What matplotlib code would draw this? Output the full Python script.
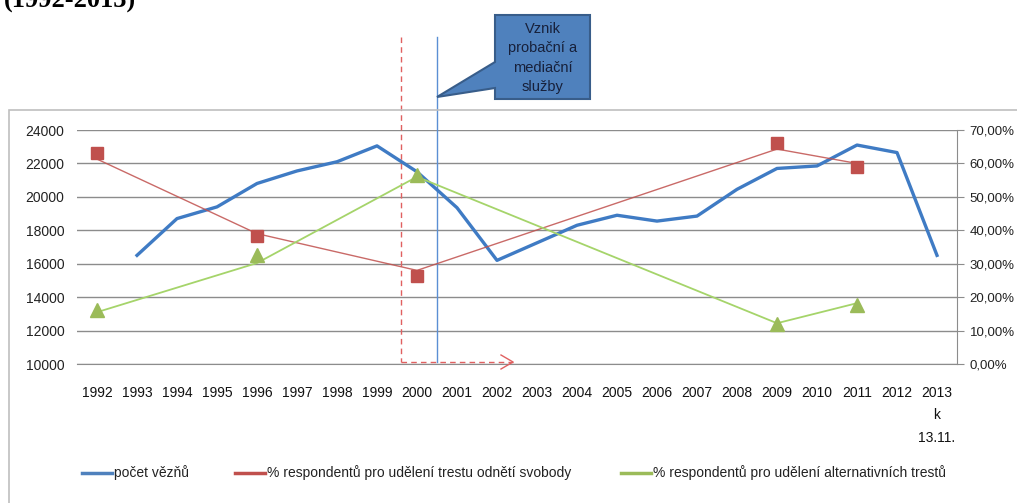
import matplotlib
matplotlib.use("Agg")
import matplotlib.pyplot as plt
import matplotlib.transforms as mtransforms
from matplotlib.patches import Polygon, Rectangle
from matplotlib.lines import Line2D
from matplotlib.ticker import FuncFormatter

# Data
years = list(range(1992, 2014))
prisoners = [None, 16500, 18700, 19400, 20800, 21550, 22100, 23050, 21500, 19350,
             16200, 17250, 18300, 18900, 18550, 18850, 20450, 21700, 21850, 23100,
             22650, 16500]
survey_years = [1992, 1996, 2000, 2009, 2011]
prison_pts = [0.631, 0.383, 0.262, 0.660, 0.590]
prison_line = [0.613, 0.390, 0.280, 0.643, 0.600]
alt_pts = [0.161, 0.326, 0.565, 0.120, 0.177]
alt_line = [0.155, 0.302, 0.560, 0.122, 0.182]

xlabels = [str(y) for y in years]
xlabels[-1] = '2013\nk\n13.11.'

W, H = 1017, 503
plt.rcParams['font.family'] = ['Liberation Sans', 'DejaVu Sans']
fig = plt.figure(figsize=(W / 100, H / 100), dpi=100)

def fx(px):
    return px / W

def fy(py):
    return 1 - py / H

ax = fig.add_axes([fx(77), fy(364), fx(957) - fx(77), fy(130) - fy(364)])
ax2 = ax.twinx()

# outer chart frame
fig.add_artist(Rectangle((fx(9), -0.01), 1.1, fy(110) + 0.01, transform=fig.transFigure,
                         fill=False, edgecolor='#BFBFBF', lw=1.2))

# blue series
xs = [y for y, v in zip(years, prisoners) if v is not None]
vs = [v for v in prisoners if v is not None]
ax.plot(xs, vs, color='#3F7BC4', lw=2.4, zorder=5, solid_joinstyle='round')

ax.set_xlim(1991.5, 2013.5)
ax.set_ylim(10000, 24000)
ax.set_yticks(range(10000, 24001, 2000))
ax.grid(axis='y', color='#8C8C8C', lw=1.0)
ax.set_axisbelow(True)
for s in ['top', 'left', 'right']:
    ax.spines[s].set_visible(False)
ax.spines['bottom'].set_color('#8C8C8C')
ax.tick_params(axis='y', length=0, pad=9, labelsize=10, labelcolor='#222222')
ax.set_xticks(years)
ax.set_xticklabels(xlabels)
ax.tick_params(axis='x', length=0, pad=16, labelsize=10, labelcolor='#111111')
for t in ax.get_xticklabels():
    t.set_linespacing(1.75)

# percentage series
ax2.plot(survey_years, prison_line, color='#C0504D', lw=1.0, alpha=0.85, zorder=3)
ax2.plot(survey_years, prison_pts, 's', color='#C0504D', ms=9, zorder=6, ls='none')
ax2.plot(survey_years, alt_line, color='#A5D46A', lw=1.3, zorder=3)
ax2.plot(survey_years, alt_pts, '^', color='#9BBB59', ms=10, zorder=6, ls='none')
ax2.set_ylim(0, 0.7)
ax2.set_yticks([i / 10 for i in range(8)])
ax2.yaxis.set_major_formatter(FuncFormatter(lambda v, p: ('%.2f%%' % (v * 100)).replace('.', ',')))
for s in ['top', 'left', 'bottom']:
    ax2.spines[s].set_visible(False)
ax2.spines['right'].set_color('#8C8C8C')
ax2.tick_params(axis='y', length=5, color='#8C8C8C', direction='out', pad=4,
                labelsize=9.5, labelcolor='#222222')

# markers of the start of the probation service
tr = mtransforms.blended_transform_factory(ax.transData, fig.transFigure)
ax.plot([1999.6, 1999.6], [fy(37), fy(362)], transform=tr, clip_on=False,
        color='#E06060', lw=1.0, ls=(0, (4, 3)), zorder=4)
ax.plot([1999.6, 2002.4], [fy(362), fy(362)], transform=tr, clip_on=False,
        color='#E06060', lw=1.0, ls=(0, (4, 3)), zorder=4)
ax.plot([2002.1, 2002.4, 2002.1], [fy(355), fy(362), fy(369)], transform=tr, clip_on=False,
        color='#E06060', lw=1.0, zorder=4)
ax.plot([2000.5, 2000.5], [fy(37), fy(362)], transform=tr, clip_on=False,
        color='#5B8FD4', lw=1.0, zorder=4)

# callout box
pts = [(495, 15), (590, 15), (590, 99), (495, 99), (495, 88), (437, 97), (495, 62)]
fig.add_artist(Polygon([(fx(a), fy(b)) for a, b in pts], closed=True, transform=fig.transFigure,
                       facecolor='#4F81BD', edgecolor='#385D8A', lw=1.5))
fig.text(fx(543), fy(58), 'Vznik\nprobační a\nmediační\nslužby', ha='center', va='center',
         fontsize=10.5, color='#17203A', linespacing=1.5)

# cut-off heading
fig.text(fx(4), fy(8), '(1992-2013)', ha='left', va='baseline', fontsize=19,
         fontweight='bold', family='Liberation Serif', color='black')

# legend
legend_items = [
    (82, '#4F81BD', 'počet vězňů'),
    (235, '#C0504D', '% respondentů pro udělení trestu odnětí svobody'),
    (621, '#9BBB59', '% respondentů pro udělení alternativních trestů'),
]
for x0, c, label in legend_items:
    fig.add_artist(Line2D([fx(x0), fx(x0 + 30)], [fy(473), fy(473)], color=c, lw=2.5,
                          transform=fig.transFigure))
    fig.text(fx(x0 + 32), fy(473), label, ha='left', va='center', fontsize=10, color='#222222')

fig.savefig('out.png', dpi=100, facecolor='white')
